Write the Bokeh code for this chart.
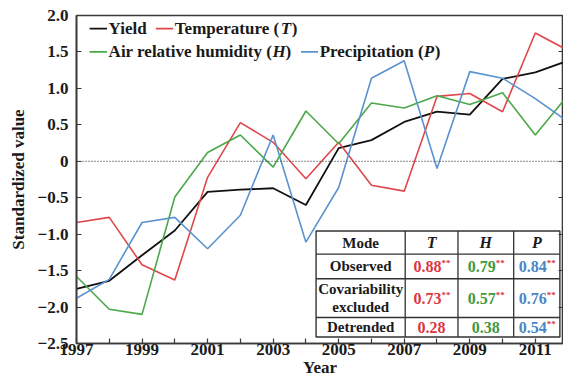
from bokeh.plotting import figure
from bokeh.models import FixedTicker, LinearAxis, Span, Label
from bokeh.embed import file_html
from bokeh.resources import INLINE

# ---------------- data ----------------
years = list(range(1997, 2013))
yield_vals = [-1.75, -1.64, -1.29, -0.95, -0.42, -0.39, -0.37, -0.60, 0.18, 0.29, 0.54, 0.68, 0.64, 1.13, 1.22, 1.38]
temperature = [-0.84, -0.77, -1.42, -1.63, -0.22, 0.53, 0.26, -0.24, 0.26, -0.33, -0.41, 0.89, 0.93, 0.68, 1.76, 1.52]
humidity = [-1.58, -2.03, -2.10, -0.49, 0.12, 0.36, -0.08, 0.69, 0.24, 0.80, 0.73, 0.90, 0.78, 0.94, 0.36, 0.91]
precipitation = [-1.88, -1.62, -0.84, -0.77, -1.20, -0.74, 0.36, -1.11, -0.36, 1.14, 1.38, -0.10, 1.23, 1.14, 0.86, 0.54]

y_ticks = [-2.5, -2.0, -1.5, -1.0, -0.5, 0.0, 0.5, 1.0, 1.5, 2.0]
y_tick_labels = ["\u22122.5", "\u22122.0", "\u22121.5", "\u22121.0", "\u22120.5", "0", "0.5", "1.0", "1.5", "2.0"]
x_label_years = [y for y in years if y % 2 == 1]
x_minor_years = [y for y in years if y % 2 == 0]

table_modes = ["Observed", "Covariability\nexcluded", "Detrended"]
table_T = ["0.88", "0.73", "0.28"]
table_H = ["0.79", "0.57", "0.38"]
table_P = ["0.84", "0.76", "0.54"]
sig_T = [True, True, False]
sig_H = [True, True, False]
sig_P = [True, True, True]

# ---------------- style ----------------
FONT = "Liberation Serif"
C_Y = "#111111"
C_T = "#e0474c"
C_H = "#4aa84a"
C_P = "#5a93cf"
T_TXT = "#d9363e"
H_TXT = "#3e9a3e"
P_TXT = "#4a86c4"
AX = "#3a3a3a"
TXT = "#1a1a1a"

p = figure(width=563, height=379, x_range=(1997, 2011.86), y_range=(-2.5, 2.0),
           output_backend="svg", toolbar_location=None,
           min_border_left=76, min_border_right=0, min_border_top=15, min_border_bottom=36)
p.xgrid.visible = False
p.ygrid.visible = False
p.outline_line_color = AX
p.outline_line_width = 1.6
p.background_fill_color = "white"

# x axis
xa = p.xaxis[0]
xa.ticker = FixedTicker(ticks=x_label_years, minor_ticks=x_minor_years)
xa.axis_label = "Year"
xa.axis_label_text_font = FONT
xa.axis_label_text_font_style = "bold"
xa.axis_label_text_font_size = "17px"
xa.axis_label_text_color = TXT
xa.axis_label_standoff = 0
xa.major_label_text_font = FONT
xa.major_label_text_font_style = "bold"
xa.major_label_text_font_size = "17px"
xa.major_label_text_color = TXT
xa.major_label_standoff = 0
xa.major_tick_in = 5
xa.major_tick_out = 0
xa.minor_tick_in = 5
xa.minor_tick_out = 0
xa.axis_line_color = AX
xa.axis_line_width = 1.6
xa.major_tick_line_color = AX
xa.major_tick_line_width = 1.2
xa.minor_tick_line_color = AX
xa.minor_tick_line_width = 1.2

# y axis
ya = p.yaxis[0]
ya.ticker = FixedTicker(ticks=y_ticks)
ya.major_label_overrides = {t: l for t, l in zip(y_ticks, y_tick_labels)}
ya.axis_label = "Standardized value"
ya.axis_label_text_font = FONT
ya.axis_label_text_font_style = "bold"
ya.axis_label_text_font_size = "17px"
ya.axis_label_text_color = TXT
ya.axis_label_standoff = 7
ya.major_label_text_font = FONT
ya.major_label_text_font_style = "bold"
ya.major_label_text_font_size = "17px"
ya.major_label_text_color = TXT
ya.major_label_standoff = 8
ya.major_tick_in = 5
ya.major_tick_out = 0
ya.minor_tick_line_color = None
ya.axis_line_color = AX
ya.axis_line_width = 1.6
ya.major_tick_line_color = AX
ya.major_tick_line_width = 1.2

# right axis: ticks only (drawn as minor ticks so no labels are made)
ra = LinearAxis(ticker=FixedTicker(ticks=[], minor_ticks=y_ticks),
                major_label_standoff=0, major_tick_in=0, major_tick_out=0,
                minor_tick_in=5, minor_tick_out=0, minor_tick_line_color=AX,
                minor_tick_line_width=1.2, axis_line_color=AX, axis_line_width=1.6)
p.add_layout(ra, "right")

# zero line
p.add_layout(Span(location=0, dimension="width", line_color="#444444",
                  line_dash="1 2", line_width=1.3))

# series
p.line(years, yield_vals, line_color=C_Y, line_width=1.8)
p.line(years, temperature, line_color=C_T, line_width=1.6)
p.line(years, humidity, line_color=C_H, line_width=1.6)
p.line(years, precipitation, line_color=C_P, line_width=1.6)


def lab(x, y, text, style="bold", color=TXT, size="17px", xo=0, yo=0, align="left", baseline="middle"):
    p.add_layout(Label(x=x, y=y, text=text, x_offset=xo, y_offset=yo, text_font=FONT,
                       text_font_style=style, text_font_size=size, text_color=color,
                       text_align=align, text_baseline=baseline))


# ---------------- legend (manual, mixed italic) ----------------
row1, row2 = 1.82, 1.50


def leg_line(x0, x1, y, color):
    p.segment(x0=[x0], y0=[y], x1=[x1], y1=[y], line_color=color, line_width=1.8)


leg_line(1997.40, 1997.93, row1, C_Y)
lab(1997.98, row1, "Yield")
leg_line(1999.42, 1999.95, row1, C_T)
lab(2000.0, row1, "Temperature (")
lab(2000.0, row1, "T", style="bold italic", xo=106)
lab(2000.0, row1, ")", xo=117)
leg_line(1997.40, 1997.93, row2, C_H)
lab(1997.98, row2, "Air relative humidity (")
lab(1997.98, row2, "H", style="bold italic", xo=164)
lab(1997.98, row2, ")", xo=177)
leg_line(2003.85, 2004.37, row2, C_P)
lab(2004.42, row2, "Precipitation (")
lab(2004.42, row2, "P", style="bold italic", xo=104)
lab(2004.42, row2, ")", xo=115)

# ---------------- table ----------------
tl, tr = 2004.31, 2011.75
tt, tb = -0.956, -2.41
col_x = [2007.03, 2008.64, 2010.34]
row_y = [-1.274, -1.612, -2.143]
p.quad(left=[tl], right=[tr], top=[tt], bottom=[tb], fill_color="white",
       line_color="#333333", line_width=1.4)
p.segment(x0=[tl] * 3, x1=[tr] * 3, y0=row_y, y1=row_y, line_color="#333333", line_width=1.3)
p.segment(x0=col_x, x1=col_x, y0=[tt] * 3, y1=[tb] * 3, line_color="#333333", line_width=1.3)

c_cent = [(tl + col_x[0]) / 2, (col_x[0] + col_x[1]) / 2, (col_x[1] + col_x[2]) / 2, (col_x[2] + tr) / 2]
r_cent = [(tt + row_y[0]) / 2, (row_y[0] + row_y[1]) / 2, (row_y[1] + row_y[2]) / 2, (row_y[2] + tb) / 2]

TFS = "15px"
lab(c_cent[0], r_cent[0], "Mode", size=TFS, align="center")
for cx, h in zip(c_cent[1:], ["T", "H", "P"]):
    lab(cx, r_cent[0], h, style="bold italic", size="16px", align="center")

lab(c_cent[0], r_cent[1], table_modes[0], size=TFS, align="center")
cov1, cov2 = table_modes[1].split("\n")
lab(c_cent[0], r_cent[2], cov1, size=TFS, align="center", yo=9)
lab(c_cent[0], r_cent[2], cov2, size=TFS, align="center", yo=-9)
lab(c_cent[0], r_cent[3], table_modes[2], size=TFS, align="center")

NFS = "16px"
for ci, (vals, sigs, col) in enumerate([(table_T, sig_T, T_TXT), (table_H, sig_H, H_TXT), (table_P, sig_P, P_TXT)]):
    cx = c_cent[ci + 1]
    for ri, (v, s) in enumerate(zip(vals, sigs)):
        ry = r_cent[ri + 1]
        if s:
            lab(cx, ry, v, color=col, size=NFS, align="right", xo=10)
            lab(cx, ry, "**", color=T_TXT, size="9px", align="left", xo=10, yo=3)
        else:
            lab(cx, ry, v, color=col, size=NFS, align="center")

open("out.html", "w").write(file_html(p, INLINE))
